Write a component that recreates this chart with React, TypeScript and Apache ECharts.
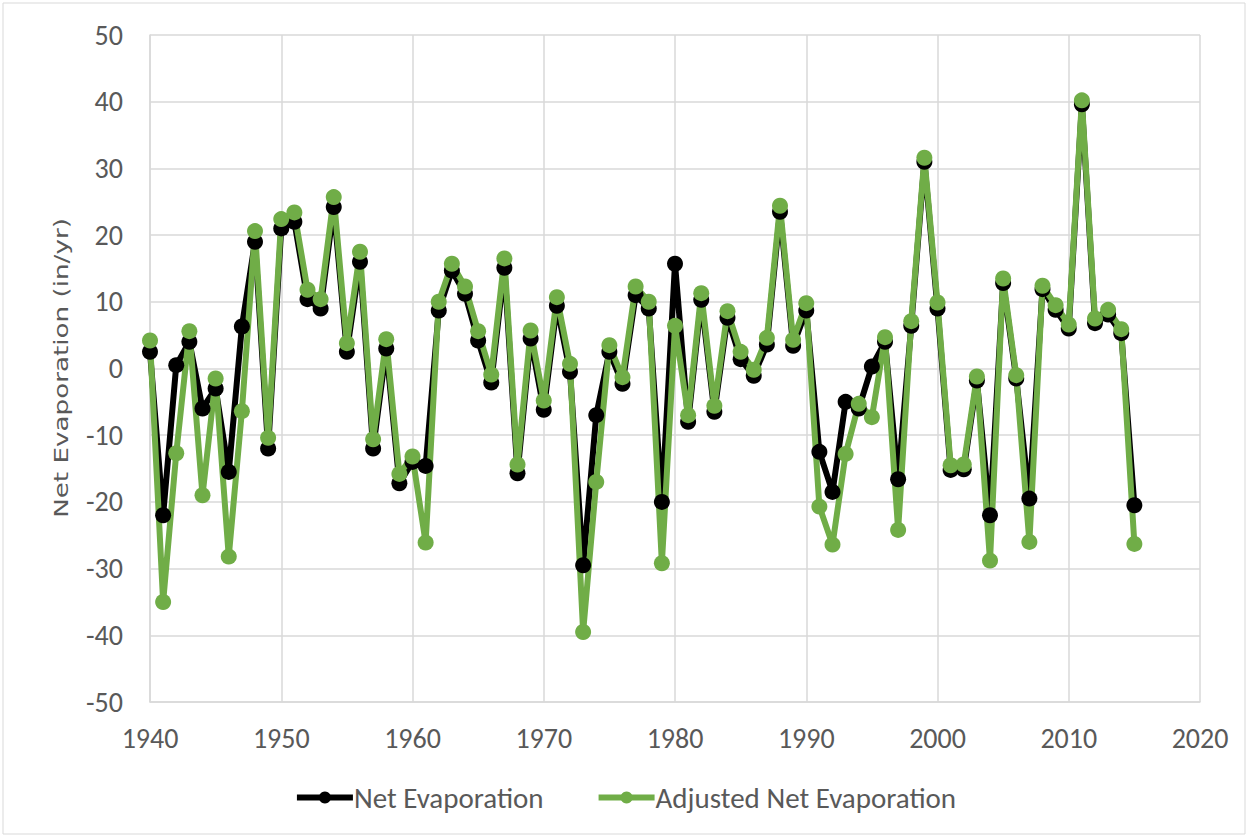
import React, { useEffect, useRef } from "react";
import * as echarts from "echarts";

const years: number[] = [];
for (let y = 1940; y <= 2015; y++) years.push(y);

const netEvaporation = [
  2.5, -22, 0.5, 4, -6, -3, -15.5, 6.3, 19, -12,
  21, 22, 10.4, 9, 24.2, 2.5, 16, -12, 3, -17.2,
  -14, -14.6, 8.7, 14.7, 11.2, 4.2, -2.1, 15.1, -15.7, 4.5,
  -6.2, 9.4, -0.5, -29.5, -7, 2.5, -2.3, 11, 9, -20,
  15.7, -8, 10.3, -6.5, 7.6, 1.4, -1.1, 3.6, 23.5, 3.4,
  8.7, -12.5, -18.5, -5, -6, 0.3, 4, -16.6, 6.4, 31,
  9, -15.2, -15.1, -1.8, -22, 12.8, -1.5, -19.5, 11.9, 8.8,
  6, 39.6, 6.8, 8.1, 5.3, -20.5,
];

const adjustedNetEvaporation = [
  4.2, -35, -12.7, 5.6, -19, -1.5, -28.2, -6.4, 20.6, -10.4,
  22.4, 23.4, 11.8, 10.4, 25.7, 3.8, 17.5, -10.6, 4.4, -15.8,
  -13.2, -26.1, 10, 15.7, 12.3, 5.6, -0.9, 16.5, -14.4, 5.7,
  -4.8, 10.7, 0.7, -39.5, -17, 3.5, -1.3, 12.3, 10, -29.2,
  6.4, -7, 11.3, -5.6, 8.6, 2.5, -0.2, 4.6, 24.4, 4.3,
  9.8, -20.7, -26.4, -12.8, -5.3, -7.3, 4.7, -24.2, 7.1, 31.6,
  9.9, -14.5, -14.4, -1.2, -28.8, 13.5, -1.0, -26, 12.4, 9.5,
  6.6, 40.2, 7.5, 8.8, 5.9, -26.3,
];

const yAxisTitle = "Net Evaporation (in/yr)";

const FONT = "Carlito, 'Liberation Sans Narrow', 'Liberation Sans', sans-serif";

export default function App() {
  const ref = useRef<HTMLDivElement>(null);
  useEffect(() => {
    if (!ref.current) return;
    const chart = echarts.init(ref.current, undefined, { renderer: "svg" });
    const mk = (vals: number[]) => years.map((y, i) => [y, vals[i]]);
    chart.setOption({
      animation: false,
      backgroundColor: "#ffffff",
      graphic: [
        {
          type: "rect",
          shape: { x: 3, y: 3, width: 1242, height: 831 },
          style: { fill: "none", stroke: "#d9d9d9", lineWidth: 1 },
        },
        {
          type: "text",
          x: 61,
          y: 368,
          rotation: Math.PI / 2,
          scaleX: 1.31,
          scaleY: 1,
          style: {
            text: yAxisTitle,
            fill: "#595959",
            font: "20px 'DejaVu Sans'",
            align: "center",
            verticalAlign: "middle",
          },
        },
      ],
      grid: { left: 150, right: 50, top: 35, bottom: 135 },
      xAxis: {
        type: "value",
        min: 1940,
        max: 2020,
        interval: 10,
        axisLine: { show: true, onZero: false, lineStyle: { color: "#d9d9d9", width: 1.5 } },
        axisTick: { show: false },
        splitLine: { show: true, lineStyle: { color: "#d9d9d9", width: 1.5 } },
        axisLabel: {
          color: "#595959",
          fontSize: 28,
          margin: 22,
          fontFamily: FONT,
          formatter: (v: number) => String(v),
        },
      },
      yAxis: {
        type: "value",
        min: -50,
        max: 50,
        interval: 10,
        axisLine: { show: true, lineStyle: { color: "#d9d9d9", width: 1.5 } },
        axisTick: { show: false },
        splitLine: { show: true, lineStyle: { color: "#d9d9d9", width: 1.5 } },
        axisLabel: { color: "#595959", fontSize: 28, margin: 27, fontFamily: FONT },
      },
      legend: {
        bottom: 20,
        left: "center",
        itemWidth: 56,
        itemHeight: 15,
        itemGap: 52,
        lineStyle: { width: 6 },
        textStyle: { color: "#595959", fontSize: 29, fontFamily: FONT, padding: [0, 0, 0, -4] },
        data: ["Net Evaporation", "Adjusted Net Evaporation"],
      },
      series: [
        {
          name: "Net Evaporation",
          type: "line",
          data: mk(netEvaporation),
          symbol: "circle",
          symbolSize: 16,
          lineStyle: { color: "#000000", width: 6 },
          itemStyle: { color: "#000000" },
        },
        {
          name: "Adjusted Net Evaporation",
          type: "line",
          data: mk(adjustedNetEvaporation),
          symbol: "circle",
          symbolSize: 16,
          lineStyle: { color: "#70ad47", width: 6 },
          itemStyle: { color: "#70ad47" },
        },
      ],
    });
    return () => chart.dispose();
  }, []);
  return (
    <div
      ref={ref}
      style={{ position: "fixed", left: 0, top: 0, width: 1250, height: 837 }}
    />
  );
}
